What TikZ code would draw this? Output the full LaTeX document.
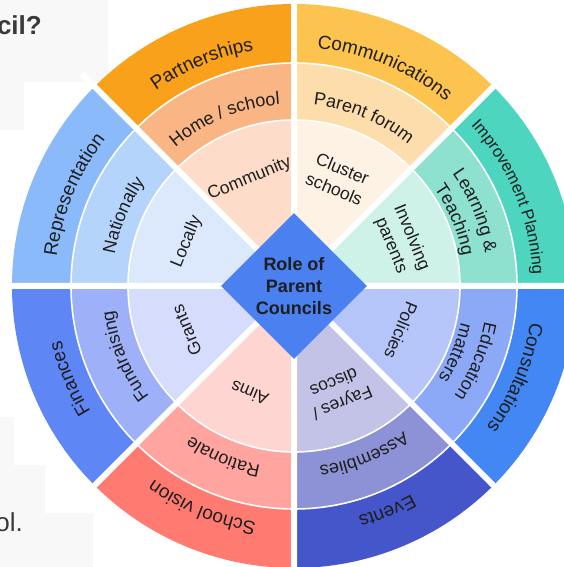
\documentclass[tikz,border=0pt]{standalone}
\usepackage{fontspec}
\setmainfont{Liberation Sans}
\usepackage{tikz}
\usetikzlibrary{shapes.geometric, decorations.text}

\definecolor{colPartnerships}{HTML}{F9A11B}
\definecolor{colHomeSchool}{HTML}{FAB585}
\definecolor{colCommunity}{HTML}{FDDCC9}
\definecolor{colCommunications}{HTML}{FCC34E}
\definecolor{colParentForum}{HTML}{FDDDAB}
\definecolor{colCluster}{HTML}{FEF2E5}
\definecolor{colImprovement}{HTML}{4DD5BF}
\definecolor{colLearning}{HTML}{8EE0CF}
\definecolor{colInvolving}{HTML}{CEF1E8}
\definecolor{colConsultations}{HTML}{4387F5}
\definecolor{colEducation}{HTML}{8CA9F8}
\definecolor{colPolicies}{HTML}{B6C6FA}
\definecolor{colEvents}{HTML}{4456C9}
\definecolor{colAssemblies}{HTML}{8C92D5}
\definecolor{colFayres}{HTML}{C2C3E7}
\definecolor{colVision}{HTML}{FF7B72}
\definecolor{colRationale}{HTML}{FFA49E}
\definecolor{colAims}{HTML}{FFD5D1}
\definecolor{colFinances}{HTML}{5E86F4}
\definecolor{colFundraising}{HTML}{9DB0F8}
\definecolor{colGrants}{HTML}{D6DCFC}
\definecolor{colRepresentation}{HTML}{8ABAF9}
\definecolor{colNationally}{HTML}{B5D4FB}
\definecolor{colLocally}{HTML}{DCE9FD}
\definecolor{hubblue}{HTML}{4A80F0}
\definecolor{labeltext}{HTML}{1E1E1E}
\definecolor{slidegray}{HTML}{F8F8F8}
\definecolor{titlegray}{HTML}{3A3A3A}

\newcommand{\wheelsector}[4]{%
	\fill[#2] (0,0) -- (#1:282pt) arc[start angle=#1, end angle=#1+45, radius=282pt] -- cycle;
	\fill[#3] (0,0) -- (#1:223pt) arc[start angle=#1, end angle=#1+45, radius=223pt] -- cycle;
	\fill[#4] (0,0) -- (#1:166pt) arc[start angle=#1, end angle=#1+45, radius=166pt] -- cycle;}

\newcommand{\ringlabel}[4]{%
	\path[decorate, decoration={text along path, text align=center,
		text={|\fontsize{#3}{#3}\selectfont\color{labeltext}|#4}}]
		(#1+40:#2pt) arc[start angle=#1+40, end angle=#1-40, radius=#2pt];}

\begin{document}
\begin{tikzpicture}[
				x=1pt, y=1pt,
				sectorgap/.style={white, line width=6pt},
				ringseam/.style={white, line width=1.6pt},
				hub/.style={diamond, fill=hubblue, inner sep=0pt, minimum width=146pt, minimum height=146pt,
					align=center, text=labeltext, font=\fontsize{18}{22}\selectfont\bfseries},
				innerlabel/.style={align=center, text=labeltext, font=\fontsize{17.5}{22}\selectfont},
				fragment/.style={anchor=base east, inner sep=0pt, text=titlegray}]

			\path[use as bounding box, fill=white] (-294,-281) rectangle (270,286);
			\fill[slidegray] (-294,286) rectangle (-186,204);
			\fill[slidegray] (-294,204) rectangle (-270,156);
			\fill[slidegray] (-294,-131) rectangle (-280,-179);
			\fill[slidegray] (-294,-179) rectangle (-249,-227);
			\fill[slidegray] (-294,-227) rectangle (-201,-281);

			\node[fragment, font=\fontsize{26}{26}\selectfont\bfseries] (title) at (-252,251) {cil?};
			\node[fragment, font=\fontsize{26}{26}\selectfont] (footer) at (-271,-245) {ol.};

			\wheelsector{90}{colPartnerships}{colHomeSchool}{colCommunity}
			\wheelsector{45}{colCommunications}{colParentForum}{colCluster}
			\wheelsector{0}{colImprovement}{colLearning}{colInvolving}
			\wheelsector{-45}{colConsultations}{colEducation}{colPolicies}
			\wheelsector{-90}{colEvents}{colAssemblies}{colFayres}
			\wheelsector{-135}{colVision}{colRationale}{colAims}
			\wheelsector{180}{colFinances}{colFundraising}{colGrants}
			\wheelsector{135}{colRepresentation}{colNationally}{colLocally}

			\draw[ringseam] (0,0) circle[radius=166pt] (0,0) circle[radius=223pt];
			\draw[sectorgap] (0:300pt) -- (180:300pt) (45:300pt) -- (225:300pt)
				(90:300pt) -- (270:300pt) (135:300pt) -- (315:300pt);

			\node[hub] (role) at (0,0) {Role of\\Parent\\Councils};

			\ringlabel{112.5}{239}{19}{Partnerships}
			\ringlabel{67.5}{239}{19}{Communications}
			\ringlabel{22.5}{239}{16.5}{Improvement Planning}
			\ringlabel{-22.5}{239}{19}{Consultations}
			\ringlabel{-67.5}{239}{19}{Events}
			\ringlabel{-112.5}{239}{19}{School vision}
			\ringlabel{202.5}{239}{19}{Finances}
			\ringlabel{157.5}{239}{19}{Representation}

			\ringlabel{112.5}{182}{18}{Home / school}
			\ringlabel{67.5}{182}{18}{Parent forum}
			\ringlabel{22.5}{194}{18}{Learning {\&}}
			\ringlabel{22.5}{171}{18}{Teaching}
			\ringlabel{-22.5}{194}{18}{Education}
			\ringlabel{-22.5}{171}{18}{matters}
			\ringlabel{-67.5}{182}{18}{Assemblies}
			\ringlabel{-112.5}{182}{18}{Rationale}
			\ringlabel{202.5}{182}{18}{Fundraising}
			\ringlabel{157.5}{182}{18}{Nationally}

			\node[innerlabel, rotate=22.5] (community) at (112.5:116pt) {Community};
			\node[innerlabel, rotate=-22.5] (cluster) at (67.5:116pt) {Cluster\\schools};
			\node[innerlabel, rotate=-67.5] (involving) at (22.5:116pt) {Involving\\parents};
			\node[innerlabel, rotate=-112.5] (policies) at (-22.5:116pt) {Policies};
			\node[innerlabel, rotate=-157.5] (fayres) at (-67.5:116pt) {Fayres /\\discos};
			\node[innerlabel, rotate=157.5] (aims) at (-112.5:116pt) {Aims};
			\node[innerlabel, rotate=112.5] (grants) at (202.5:116pt) {Grants};
			\node[innerlabel, rotate=67.5] (locally) at (157.5:116pt) {Locally};
		\end{tikzpicture}
\end{document}
